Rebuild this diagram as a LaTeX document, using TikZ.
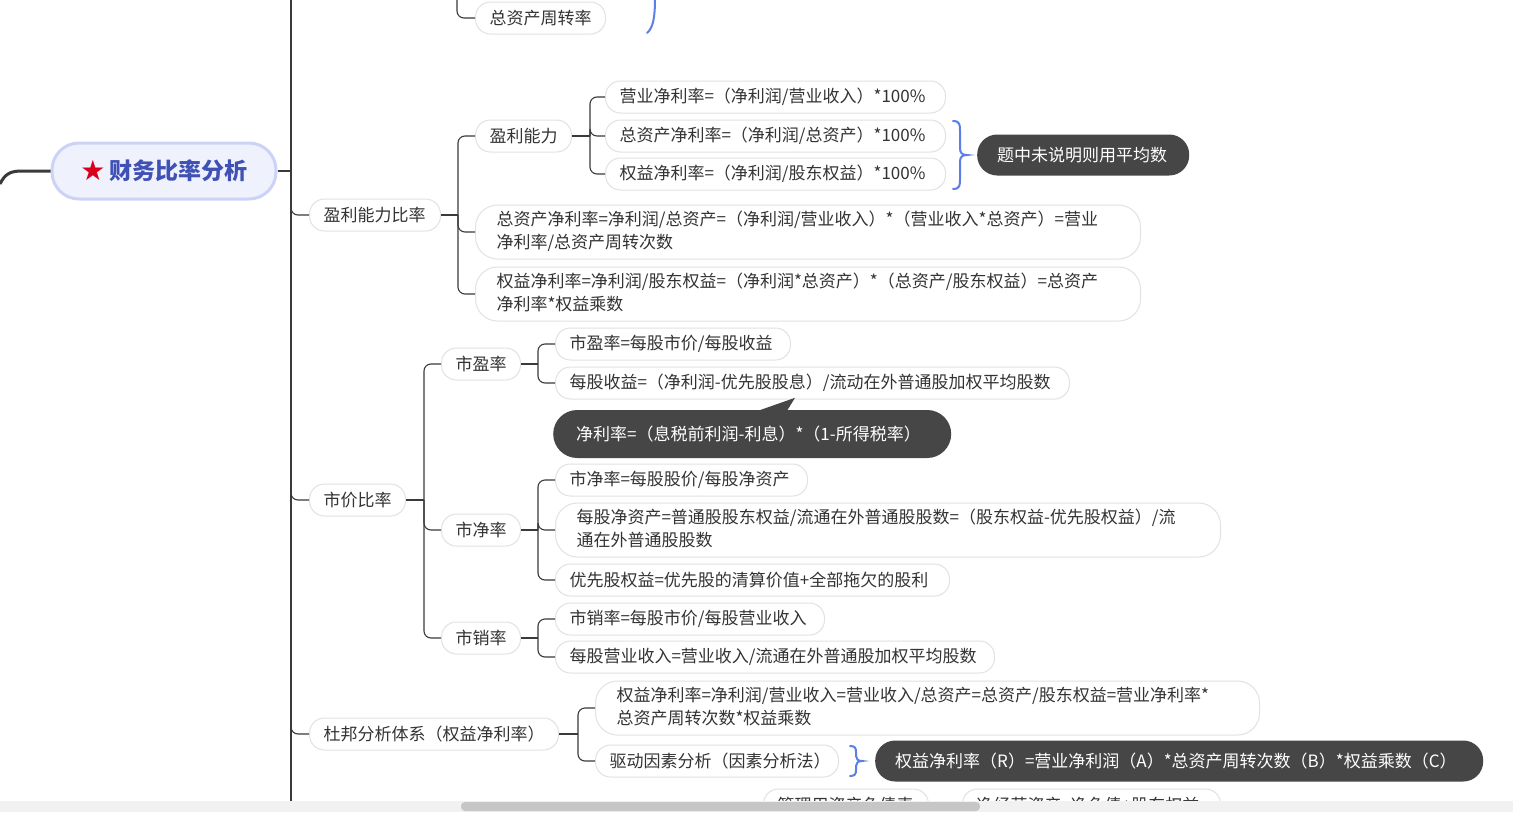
\documentclass[tikz,border=0pt]{standalone}
\usepackage{fontspec}
\setmainfont{Noto Sans CJK SC}
\newfontfamily\symfont{DejaVu Sans}
\usetikzlibrary{calc}
\definecolor{linec}{HTML}{3A3A3A}
\definecolor{pillb}{HTML}{E2E2E2}
\definecolor{txt}{HTML}{333333}
\definecolor{darkc}{HTML}{464646}
\definecolor{bracec}{HTML}{5B7FE6}
\definecolor{rootfill}{HTML}{EFF1FD}
\definecolor{rootb}{HTML}{CCD3F6}
\definecolor{roottxt}{HTML}{3F51B5}
\definecolor{starred}{HTML}{D9001B}
\definecolor{trackc}{HTML}{F1F1F1}
\definecolor{thumbc}{HTML}{C6C6C6}
\newcommand\lb[2]{\makebox[#1pt][l]{#2}}
\newcommand\lbb[3]{\makebox[#1pt][l]{\begin{tabular}{@{}l@{}}#2\\#3\end{tabular}}}
\tikzset{
  pill/.style={draw=pillb, line width=1pt, fill=white, rounded corners=15pt,
    minimum height=32pt, inner xsep=14pt, inner ysep=0pt, anchor=west,
    text=txt, font=\fontsize{17}{23}\selectfont},
  pilltwo/.style={pill, rounded corners=22pt, minimum height=54pt, inner xsep=21pt},
  callout/.style={fill=darkc, text=white, rounded corners=20pt, inner xsep=20pt,
    inner ysep=0pt, minimum height=41pt, anchor=west, font=\fontsize{17}{23}\selectfont},
  rootnode/.style={fill=rootfill, draw=rootb, line width=3pt, rounded corners=27pt,
    minimum width=224pt, minimum height=56pt, text=roottxt,
    font=\fontsize{23}{28}\selectfont\bfseries},
  conn/.style={draw=linec, line width=1.1pt, rounded corners=7pt},
  bracel/.style={draw=bracec, line width=2pt, line cap=round},
}
\begin{document}
\begin{tikzpicture}[x=1pt,y=-1pt]
\useasboundingbox (0,0) rectangle (1513,819);
\fill[white] (0,0) rectangle (1513,819);
\begin{scope}
\clip (0,0) rectangle (1513,801);

% root
\node[rootnode] (root) at (164,171) {\raisebox{-1pt}{\symfont\fontsize{28}{28}\selectfont\color{starred}★}\hspace{4pt}财务比率分析};
\coordinate (rin) at (0,184);
\draw[draw=linec, line width=3pt] (rin) .. controls (5,174) and (10,171) .. (22,171) -- (root.west);

% trunk
\coordinate (ttop) at (291,0);
\coordinate (tbot) at (291,805);
\coordinate (tj) at (291,171);
\draw[conn] (ttop) -- (tbot);
\draw[conn] (root.east) -- (tj);

% top partial
\node[pill] (zz) at (475,18) {\lb{102}{总资产周转率}};
\coordinate (ctop) at (457,0);
\draw[conn] (ctop) |- (zz.west);
\draw[bracel] (655,-2) .. controls (655,18) and (653,28) .. (647,33);

% level 1
\node[pill] (ylbl) at (309,215) {\lb{103}{盈利能力比率}};
\node[pill] (sjbl) at (309,500) {\lb{68}{市价比率}};
\node[pill] (db) at (309,734) {\lb{221}{杜邦分析体系（权益净利率）}};
\draw[conn] (tj) |- (ylbl.west);
\draw[conn] (tj) |- (sjbl.west);
\draw[conn] (tj) |- (db.west);

% 盈利能力比率 children
\node[pill] (ylnl) at (475,136) {\lb{68}{盈利能力}};
\node[pilltwo] (zzj2) at (475,232) {\lbb{623}{总资产净利率=净利润/总资产=（净利润/营业收入）*（营业收入*总资产）=营业}{净利率/总资产周转次数}};
\node[pilltwo] (qyj2) at (475,294) {\lbb{623}{权益净利率=净利润/股东权益=（净利润*总资产）*（总资产/股东权益）=总资产}{净利率*权益乘数}};
\coordinate (j1) at ($(ylbl.east)+(17,0)$);
\draw[conn] (ylbl.east) -- (j1);
\draw[conn] (j1) |- (ylnl.west);
\draw[conn] (j1) |- (zzj2.west);
\draw[conn] (j1) |- (qyj2.west);

% 盈利能力 children
\node[pill] (yyj) at (605,97) {\lb{312}{营业净利率=（净利润/营业收入）*100\%}};
\node[pill] (zcj) at (605,136) {\lb{312}{总资产净利率=（净利润/总资产）*100\%}};
\node[pill] (qyj) at (605,174) {\lb{312}{权益净利率=（净利润/股东权益）*100\%}};
\coordinate (j2) at ($(ylnl.east)+(18,0)$);
\draw[conn] (ylnl.east) -- (j2);
\draw[conn] (j2) |- (yyj.west);
\draw[conn] (j2) |- (zcj.west);
\draw[conn] (j2) |- (qyj.west);
\draw[bracel] (953,121) .. controls (960,121) and (960,125) .. (960,131) -- (960,148)
  .. controls (960,153) and (962,155) .. (967,155)
  .. controls (962,155) and (960,157) .. (960,162) -- (960,179)
  .. controls (960,185) and (960,189) .. (953,189);
\node[callout] (c1) at (977,155) {\lb{172}{题中未说明则用平均数}};

% 市价比率 children
\node[pill] (syl) at (441,364) {\lb{51}{市盈率}};
\node[pill] (sjl) at (441,530) {\lb{51}{市净率}};
\node[pill] (sxl) at (441,638) {\lb{51}{市销率}};
\coordinate (j3) at ($(sjbl.east)+(18,0)$);
\draw[conn] (sjbl.east) -- (j3);
\draw[conn] (j3) |- (syl.west);
\draw[conn] (j3) |- (sjl.west);
\draw[conn] (j3) |- (sxl.west);

% 市盈率 children
\node[pill] (syl1) at (555,344) {\lb{207}{市盈率=每股市价/每股收益}};
\node[pill] (mgsy) at (555,383) {\lb{486}{每股收益=（净利润-优先股股息）/流动在外普通股加权平均股数}};
\coordinate (j4) at ($(syl.east)+(17,0)$);
\draw[conn] (syl.east) -- (j4);
\draw[conn] (j4) |- (syl1.west);
\draw[conn] (j4) |- (mgsy.west);
\node[callout, rounded corners=24pt, minimum height=48pt, inner xsep=23pt] (c2) at (553,434) {\lb{352}{净利率=（息税前利润-利息）*（1-所得税率）}};
\fill[darkc] ([xshift=205pt,yshift=-1pt]c2.north west) -- ([xshift=242pt,yshift=12pt]c2.north west) -- ([xshift=234pt,yshift=-1pt]c2.north west) -- cycle;

% 市净率 children
\node[pill] (sjl1) at (555,480) {\lb{224}{市净率=每股股价/每股净资产}};
\node[pilltwo] (mgjz) at (555,530) {\lbb{623}{每股净资产=普通股股东权益/流通在外普通股股数=（股东权益-优先股权益）/流}{通在外普通股股数}};
\node[pill] (yxg) at (555,580) {\lb{366}{优先股权益=优先股的清算价值+全部拖欠的股利}};
\coordinate (j5) at ($(sjl.east)+(17,0)$);
\draw[conn] (sjl.east) -- (j5);
\draw[conn] (j5) |- (sjl1.west);
\draw[conn] (j5) |- (mgjz.west);
\draw[conn] (j5) |- (yxg.west);

% 市销率 children
\node[pill] (sxl1) at (555,619) {\lb{241}{市销率=每股市价/每股营业收入}};
\node[pill] (mgyy) at (555,657) {\lb{411}{每股营业收入=营业收入/流通在外普通股加权平均股数}};
\coordinate (j6) at ($(sxl.east)+(17,0)$);
\draw[conn] (sxl.east) -- (j6);
\draw[conn] (j6) |- (sxl1.west);
\draw[conn] (j6) |- (mgyy.west);

% 杜邦 children
\node[pilltwo] (db1) at (595,708) {\lbb{622}{权益净利率=净利润/营业收入=营业收入/总资产=总资产/股东权益=营业净利率*}{总资产周转次数*权益乘数}};
\node[pill] (qd) at (595,761) {\lb{215}{驱动因素分析（因素分析法）}};
\coordinate (j7) at ($(db.east)+(19,0)$);
\draw[conn] (db.east) -- (j7);
\draw[conn] (j7) |- (db1.west);
\draw[conn] (j7) |- (qd.west);
\draw[bracel] (850,746) .. controls (855,746) and (856,748) .. (856,752) -- (856,756)
  .. controls (856,759) and (858,761) .. (862,761)
  .. controls (858,761) and (856,763) .. (856,766) -- (856,770)
  .. controls (856,774) and (855,776) .. (850,776);
\node[callout] (c3) at (875,761) {\lb{568}{权益净利率（R）=营业净利润（A）*总资产周转次数（B）*权益乘数（C）}};

% bottom partial
\node[pill] (gl) at (763,805) {\lb{137}{管理用资产负债表}};
\node[pill] (jjy) at (962,805) {\lb{230}{净经营资产=净负债+股东权益}};
\draw[conn] (gl.east) -- (jjy.west);
\end{scope}

% scrollbar
\fill[trackc] (0,801) rectangle (1513,812);
\fill[thumbc, rounded corners=4pt] (461,802) rectangle (980,811);
\end{tikzpicture}
\end{document}
